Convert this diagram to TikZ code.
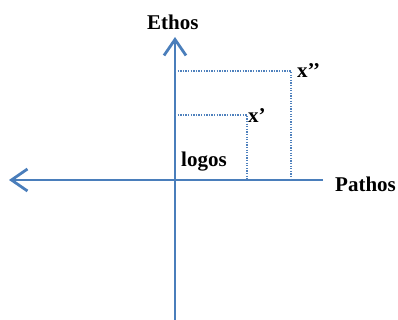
\documentclass[tikz,border=0pt]{standalone}
\usepackage{fontspec}
\setmainfont{Liberation Serif}
\usetikzlibrary{arrows.meta}
\definecolor{axisblue}{RGB}{74,126,187}
\definecolor{dotblue}{RGB}{79,129,189}
\begin{document}
\begin{tikzpicture}[x=1pt,y=-1pt,
  axis/.style={draw=axisblue,line width=2.8pt,-{Straight Barb[length=16pt,width=22pt]}},
  guide/.style={draw=dotblue,line width=1.4pt,dash pattern=on 1.3pt off 1.3pt},
  lbl/.style={font=\fontsize{21}{23}\selectfont\bfseries,inner sep=0pt,text=black,anchor=base west}]
\useasboundingbox (0,0) rectangle (398,320);
\coordinate (vb) at (175,320);
\coordinate (vt) at (175,37);
\coordinate (hr) at (323,180);
\coordinate (hl) at (9,180);
\coordinate (o) at (175,180);
\draw[axis] (vb) -- (vt);
\draw[axis] (hr) -- (hl);
\coordinate (a1) at (247,115);
\coordinate (a2) at (291,71);
\draw[guide] (o |- a1) -- (a1) -- (a1 |- o);
\draw[guide] (o |- a2) -- (a2) -- (a2 |- o);
\node[lbl] (ethos) at (147,30) {Ethos};
\node[lbl] (pathos) at (335,192) {Pathos};
\node[lbl] (x2) at (297,78) {x’’};
\node[lbl] (x1) at (248,123) {x’};
\node[lbl] (logos) at (181,167) {logos};
\end{tikzpicture}
\end{document}
